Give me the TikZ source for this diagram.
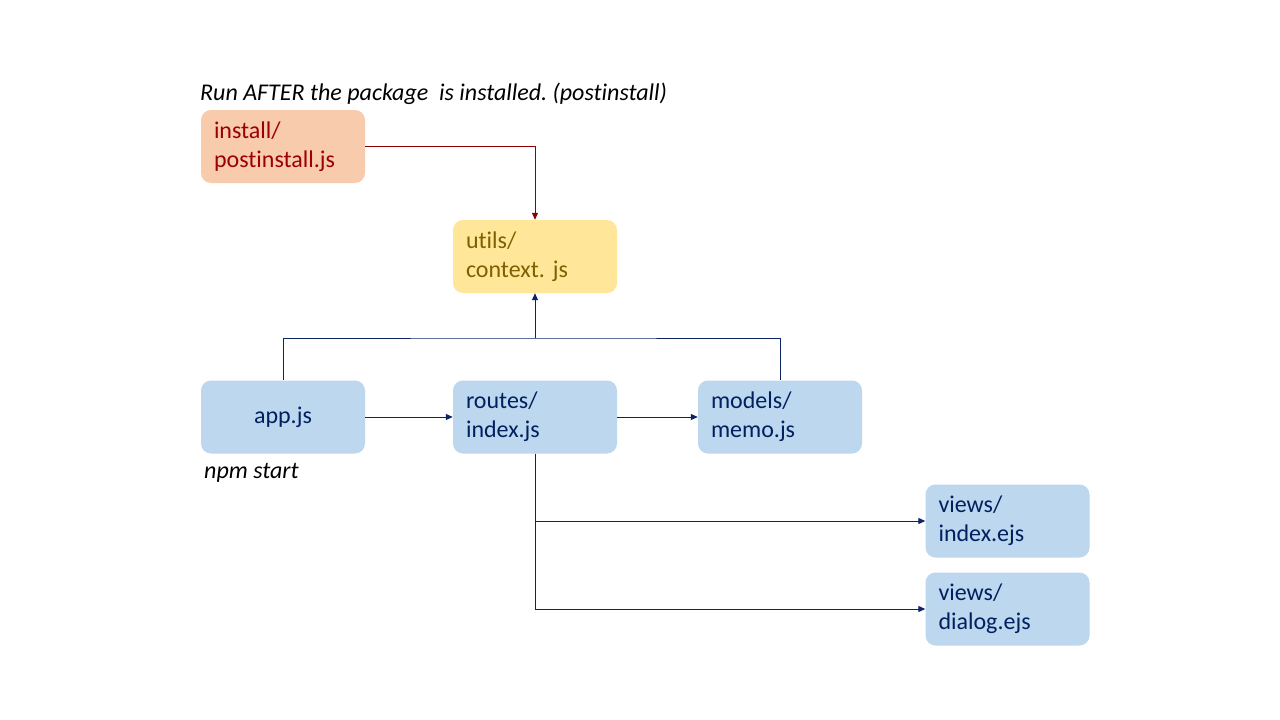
\documentclass[tikz,border=0pt]{standalone}
\usepackage{fontspec}
\setmainfont{Carlito}[Ligatures=NoCommon]
\usetikzlibrary{arrows.meta}
\definecolor{bluefill}{HTML}{BDD7EE}
\definecolor{bluetext}{HTML}{002060}
\definecolor{orangefill}{HTML}{F8CBAD}
\definecolor{redtext}{HTML}{9C0006}
\definecolor{yellowfill}{HTML}{FFE699}
\definecolor{yellowtext}{HTML}{7F6000}
\definecolor{redline}{HTML}{8B0000}
\definecolor{navyline}{HTML}{0C2366}
\frenchspacing
\tikzset{
  box/.style={rectangle, rounded corners=10pt, minimum width=164pt, minimum height=73pt,
    text width=138pt, align=left, inner sep=0pt, font=\fontsize{24}{29}\selectfont},
  bluebox/.style={box, fill=bluefill, text=bluetext},
  conn/.style={line width=1pt, draw=navyline},
  arr/.style={conn, -{Triangle[length=7pt,width=6pt]}},
  redarr/.style={line width=1pt, draw=redline, -{Triangle[length=7pt,width=6pt]}},
  note/.style={anchor=west, inner sep=0pt, font=\fontsize{24}{28}\selectfont\itshape}
}
\begin{document}
\begin{tikzpicture}[x=1pt,y=-1pt]
\useasboundingbox[fill=white] (0,0) rectangle (1280,720);
\node[note] (title) at (200,94) {Run AFTER the package\ \ is installed. (postinstall)};
\node[box, fill=orangefill, text=redtext] (install) at (283,146.5) {install/\\postinstall.js};
\node[box, fill=yellowfill, text=yellowtext] (utils) at (535,256.5) {utils/\\context. js};
\node[bluebox, align=center] (app) at (283,417) {app.js};
\node[bluebox] (routes) at (535,417) {routes/\\index.js};
\node[bluebox] (models) at (780,417) {models/\\memo.js};
\node[bluebox] (vindex) at (1007.5,521) {views/\\index.ejs};
\node[bluebox] (vdialog) at (1007.5,609) {views/\\dialog.ejs};
\node[note] (npm) at (204,473) {npm start};
\coordinate (top) at (535,338);
\draw[redarr] (install.east) -| (utils.north);
\draw[conn] (app.north) |- (top) -| (models.north);
\draw[arr] (top) -- (utils.south);
\draw[arr] (app.east) -- (routes.west);
\draw[arr] (routes.east) -- (models.west);
\draw[arr] (routes.south) |- (vindex.west);
\draw[arr] (routes.south) |- (vdialog.west);
\end{tikzpicture}
\end{document}
